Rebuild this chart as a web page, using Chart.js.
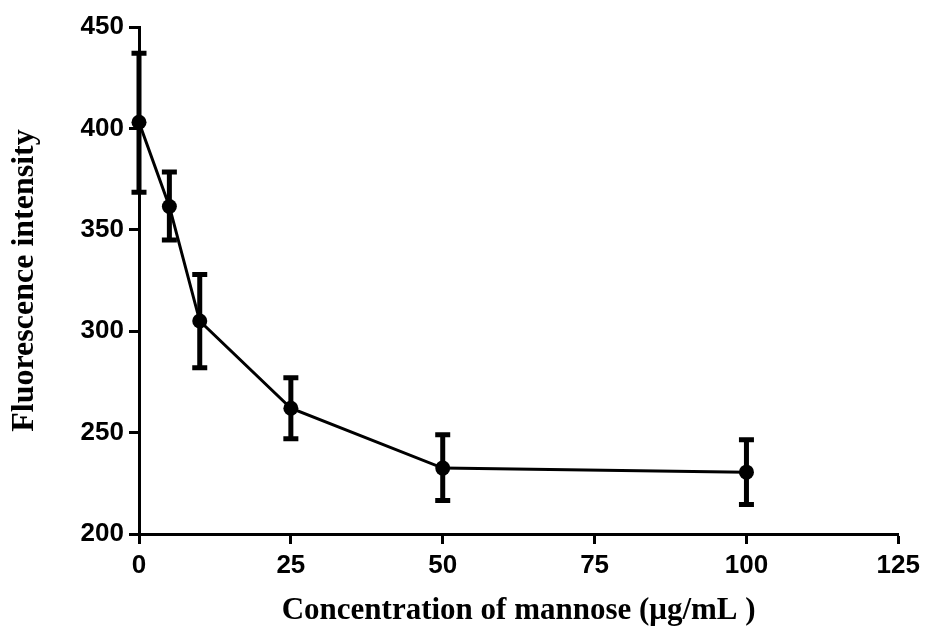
<!DOCTYPE html>
<html>
<head>
<meta charset="utf-8">
<script src="https://cdn.jsdelivr.net/npm/chart.js@4.4.0/dist/chart.umd.min.js"></script>
<style>
    html, body { margin: 0; padding: 0; background: #fff; }
    #wrap { width: 926px; height: 626px; }
</style>
</head>
<body>
<div id="wrap"><canvas id="chartCanvas" width="926" height="626"></canvas></div>
<script>
// Data
var concentrations = [0, 5, 10, 25, 50, 100];
var intensity = [403, 361.5, 305, 262, 232.5, 230.5];
var errUpper = [437, 378.5, 328, 277, 249, 246.5];
var errLower = [368.5, 345, 282, 247, 216.5, 214.5];

var xTicks = [0, 25, 50, 75, 100, 125];
var yTicks = [200, 250, 300, 350, 400, 450];

var tickFont = { family: '"Liberation Sans", Arial, sans-serif', size: 26, weight: 'bold' };
var xTitleFont = { family: '"Liberation Serif", "Times New Roman", serif', size: 31, weight: 'bold', lineHeight: 1 };
var yTitleFont = { family: '"Liberation Serif", "Times New Roman", serif', size: 32, weight: 'bold', lineHeight: 1 };

// draw the vertical error bars with caps
var errorBars = {
    id: 'errorBars',
    afterDatasetsDraw: function (chart) {
        var ctx = chart.ctx;
        var xs = chart.scales.x;
        var ys = chart.scales.y;
        ctx.save();
        ctx.strokeStyle = '#000';
        ctx.lineWidth = 5;
        concentrations.forEach(function (c, i) {
            var px = xs.getPixelForValue(c);
            var top = ys.getPixelForValue(errUpper[i]);
            var bot = ys.getPixelForValue(errLower[i]);
            ctx.beginPath();
            ctx.moveTo(px, top);
            ctx.lineTo(px, bot);
            ctx.moveTo(px - 7.5, top);
            ctx.lineTo(px + 7.5, top);
            ctx.moveTo(px - 7.5, bot);
            ctx.lineTo(px + 7.5, bot);
            ctx.stroke();
        });
        ctx.restore();
    }
};

var chartData = {
    datasets: [{
        data: concentrations.map(function (c, i) { return { x: c, y: intensity[i] }; }),
        borderColor: '#000',
        backgroundColor: '#000',
        borderWidth: 3,
        pointRadius: 7.5,
        pointBackgroundColor: '#000',
        pointBorderWidth: 0,
        clip: false
    }]
};

new Chart(document.getElementById('chartCanvas'), {
    type: 'line',
    data: chartData,
    plugins: [errorBars],
    options: {
        responsive: false,
        animation: false,
        layout: { padding: { left: 0, right: 25, top: 27, bottom: 0 } },
        plugins: { legend: { display: false }, tooltip: { enabled: false } },
        scales: {
            x: {
                type: 'linear',
                min: 0,
                max: 125,
                afterBuildTicks: function (scale) {
                    scale.ticks = xTicks.map(function (v) { return { value: v }; });
                },
                afterFit: function (scale) { scale.height = 92; },
                border: { color: '#000', width: 3 },
                grid: { drawOnChartArea: false, drawTicks: true, tickLength: 10, tickWidth: 3, tickColor: '#000' },
                ticks: { color: '#000', font: tickFont, padding: 6, maxRotation: 0 },
                title: {
                    display: true,
                    text: 'Concentration of mannose (\u03bcg/mL )',
                    color: '#000',
                    font: xTitleFont,
                    padding: { top: 4, bottom: 0 }
                }
            },
            y: {
                min: 200,
                max: 450,
                afterBuildTicks: function (scale) {
                    scale.ticks = yTicks.map(function (v) { return { value: v }; });
                },
                afterFit: function (scale) { scale.width = 139; },
                border: { color: '#000', width: 3 },
                grid: { drawOnChartArea: false, drawTicks: true, tickLength: 10, tickWidth: 3, tickColor: '#000' },
                ticks: { color: '#000', font: tickFont, padding: 5 },
                title: {
                    display: true,
                    text: 'Fluorescence intensity',
                    color: '#000',
                    font: yTitleFont,
                    padding: { top: 9, bottom: 0 }
                }
            }
        }
    }
});
</script>
</body>
</html>
